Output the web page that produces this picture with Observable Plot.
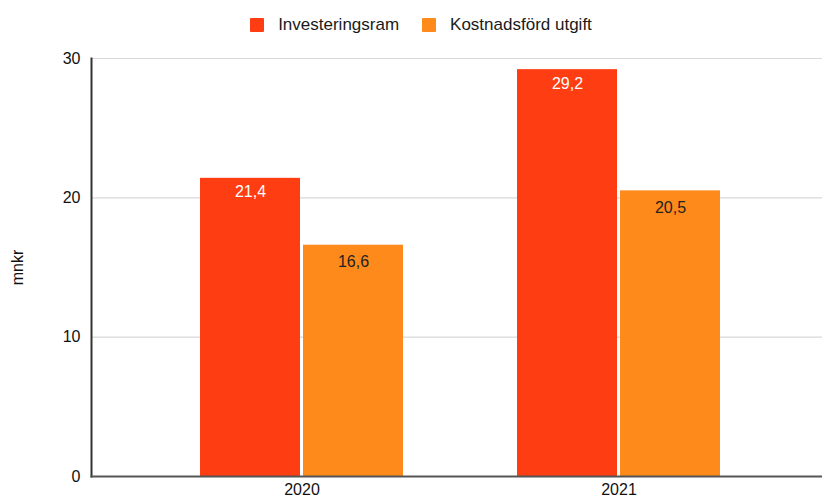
<!DOCTYPE html>
<html>
<head>
<meta charset="utf-8">
<script src="https://cdn.jsdelivr.net/npm/d3@7"></script>
<script src="https://cdn.jsdelivr.net/npm/@observablehq/plot@0.6"></script>
<style>
  html, body { margin: 0; padding: 0; background: #fff; }
  body { width: 822px; height: 499px; overflow: hidden; font-family: "Liberation Sans", Arial, sans-serif; }
  #legend { height: 40px; display: flex; justify-content: center; align-items: center; padding-left: 20px; padding-top: 10px; box-sizing: border-box; font-size: 17px; color: #1a1a1a; }
  .item { display: flex; align-items: center; margin-right: 23px; }
  .item:last-child { margin-right: 0; }
  .sw { width: 14px; height: 14px; margin-right: 14px; border-radius: 1px; }
</style>
</head>
<body>
<div id="legend"></div>
<div id="chart"></div>
<script>
const years = ["2020", "2021"];
const series = ["Investeringsram", "Kostnadsförd utgift"];
const investeringsram = [21.4, 29.2];
const kostnadsford = [16.6, 20.5];
const colors = ["#ff3d12", "#ff8a1c"];
const labelColors = ["#ffffff", "#222222"];
const yTicks = [0, 10, 20, 30];
const yLabel = "mnkr";

const rows = [];
years.forEach((y, i) => {
  rows.push({year: y, series: series[0], value: investeringsram[i]});
  rows.push({year: y, series: series[1], value: kostnadsford[i]});
});
const fmt = d3.formatLocale({decimal: ",", thousands: " ", grouping: [3], currency: ["", " kr"]}).format(".1f");

// legend
const leg = document.getElementById("legend");
series.forEach((s, i) => {
  const it = document.createElement("div");
  it.className = "item";
  const sw = document.createElement("div");
  sw.className = "sw";
  sw.style.background = colors[i];
  const t = document.createElement("span");
  t.textContent = s;
  it.appendChild(sw); it.appendChild(t);
  leg.appendChild(it);
});

const s0 = rows.filter(d => d.series === series[0]);
const s1 = rows.filter(d => d.series === series[1]);

const plot = Plot.plot({
  width: 822,
  height: 459,
  marginTop: 18,
  marginBottom: 23,
  marginLeft: 91,
  marginRight: 0,
  style: {fontFamily: "Liberation Sans, Arial, sans-serif", fontSize: "15px", color: "#111", background: "#fff"},
  x: {domain: years, range: [91, 829], paddingInner: 0.36, paddingOuter: 0.344, label: null},
  y: {domain: [0, 30], label: null},
  marks: [
    Plot.gridY(yTicks, {stroke: "#d9d9d9", strokeOpacity: 1, strokeWidth: 1.2}),
    Plot.barY(s0, {x: "year", y: "value", fill: colors[0], insetRight: 103}),
    Plot.barY(s1, {x: "year", y: "value", fill: colors[1], insetLeft: 103}),
    Plot.text(s0, {x: "year", y: "value", text: d => fmt(d.value), dx: -51.5, dy: 14, fill: labelColors[0], fontSize: 16}),
    Plot.text(s1, {x: "year", y: "value", text: d => fmt(d.value), dx: 51.5, dy: 17, fill: labelColors[1], fontSize: 16}),
    Plot.axisY(yTicks, {tickSize: 0, tickPadding: 11, fontSize: 16, label: yLabel, labelAnchor: "center", labelArrow: "none", labelOffset: 80}),
    Plot.axisX({tickSize: 0, tickPadding: 7, fontSize: 16, label: null}),
    Plot.frame({anchor: "left", stroke: "#333", strokeWidth: 2}),
    Plot.frame({anchor: "bottom", stroke: "#555", strokeWidth: 2})
  ]
});
document.getElementById("chart").appendChild(plot);
</script>
</body>
</html>
